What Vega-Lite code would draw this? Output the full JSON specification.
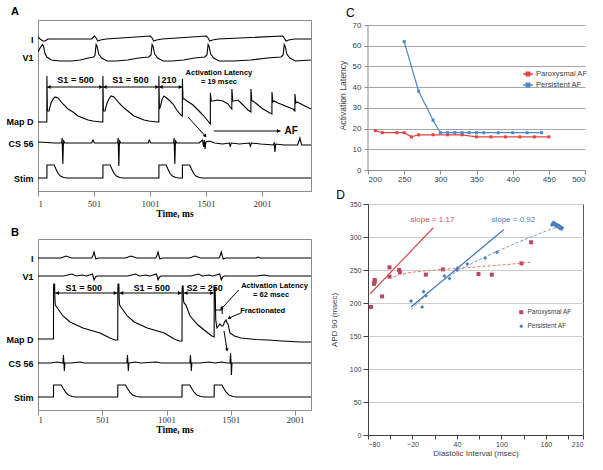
{
"$schema": "https://vega.github.io/schema/vega-lite/v6.json",
"background": "white",
"padding": {"left": 5, "top": 5, "right": 0, "bottom": 0},
"config": {
  "font": "Liberation Sans",
  "view": {"stroke": null},
  "title": {"font": "Liberation Sans", "color": "black", "anchor": "start"},
  "axis": {"labelFont": "Liberation Sans", "titleFont": "Liberation Sans", "titleFontWeight": "normal", "labelColor": "#404040", "titleColor": "#404040"}
},
"resolve": {"scale": {"color": "independent", "shape": "independent"}, "legend": {"color": "independent", "shape": "independent"}},
"datasets": {
  "traceA": [
    {"c":"I","t":1,"v":154},{"c":"I","t":20,"v":152},{"c":"I","t":46,"v":150},{"c":"I","t":64,"v":150},{"c":"I","t":90,"v":152},{"c":"I","t":480,"v":152},{"c":"I","t":505,"v":155},{"c":"I","t":520,"v":153},{"c":"I","t":535,"v":150},{"c":"I","t":560,"v":151},{"c":"I","t":610,"v":152},{"c":"I","t":1005,"v":155},{"c":"I","t":1020,"v":153},{"c":"I","t":1035,"v":150},{"c":"I","t":1060,"v":151},{"c":"I","t":1110,"v":152},{"c":"I","t":1505,"v":155},{"c":"I","t":1520,"v":153},{"c":"I","t":1535,"v":150},{"c":"I","t":1560,"v":151},{"c":"I","t":1610,"v":152},{"c":"I","t":2185,"v":155},{"c":"I","t":2200,"v":153},{"c":"I","t":2215,"v":150},{"c":"I","t":2240,"v":151},{"c":"I","t":2290,"v":152},{"c":"I","t":2439,"v":152},
    {"c":"V1","t":1,"v":139},{"c":"V1","t":20,"v":143},{"c":"V1","t":40,"v":146.5},{"c":"V1","t":50,"v":145},{"c":"V1","t":62,"v":138},{"c":"V1","t":80,"v":134},{"c":"V1","t":120,"v":131},{"c":"V1","t":200,"v":130},{"c":"V1","t":300,"v":130},{"c":"V1","t":380,"v":131},{"c":"V1","t":450,"v":133},{"c":"V1","t":500,"v":134},{"c":"V1","t":510,"v":136},{"c":"V1","t":520,"v":146.5},{"c":"V1","t":530,"v":144},{"c":"V1","t":543,"v":137},{"c":"V1","t":570,"v":133},{"c":"V1","t":620,"v":130},{"c":"V1","t":700,"v":130},{"c":"V1","t":800,"v":131},{"c":"V1","t":900,"v":133},{"c":"V1","t":990,"v":134},{"c":"V1","t":1010,"v":136},{"c":"V1","t":1020,"v":146.5},{"c":"V1","t":1030,"v":144},{"c":"V1","t":1043,"v":137},{"c":"V1","t":1070,"v":133},{"c":"V1","t":1120,"v":130},{"c":"V1","t":1200,"v":130},{"c":"V1","t":1300,"v":131},{"c":"V1","t":1400,"v":133},{"c":"V1","t":1490,"v":134},{"c":"V1","t":1510,"v":136},{"c":"V1","t":1520,"v":146.5},{"c":"V1","t":1530,"v":144},{"c":"V1","t":1543,"v":137},{"c":"V1","t":1570,"v":133},{"c":"V1","t":1620,"v":130},{"c":"V1","t":1750,"v":130},{"c":"V1","t":1900,"v":131},{"c":"V1","t":2050,"v":133},{"c":"V1","t":2170,"v":134},{"c":"V1","t":2190,"v":136},{"c":"V1","t":2200,"v":146.5},{"c":"V1","t":2210,"v":144},{"c":"V1","t":2223,"v":137},{"c":"V1","t":2250,"v":133},{"c":"V1","t":2300,"v":130},{"c":"V1","t":2439,"v":131},
    {"c":"MAP","t":1,"v":69},{"c":"MAP","t":80,"v":69},{"c":"MAP","t":80.5,"v":115},{"c":"MAP","t":85,"v":80},{"c":"MAP","t":99,"v":80},{"c":"MAP","t":117,"v":88},{"c":"MAP","t":135,"v":92},{"c":"MAP","t":153,"v":94},{"c":"MAP","t":180,"v":93},{"c":"MAP","t":224,"v":87},{"c":"MAP","t":269,"v":82},{"c":"MAP","t":314,"v":79},{"c":"MAP","t":358,"v":75},{"c":"MAP","t":403,"v":73},{"c":"MAP","t":448,"v":71},{"c":"MAP","t":492,"v":70},{"c":"MAP","t":564,"v":69},{"c":"MAP","t":580,"v":69},
    {"c":"MAP","t":580.5,"v":115},{"c":"MAP","t":585,"v":80},{"c":"MAP","t":599,"v":80},{"c":"MAP","t":617,"v":88},{"c":"MAP","t":635,"v":92},{"c":"MAP","t":653,"v":95},{"c":"MAP","t":680,"v":94},{"c":"MAP","t":724,"v":88},{"c":"MAP","t":769,"v":83},{"c":"MAP","t":814,"v":79},{"c":"MAP","t":858,"v":75},{"c":"MAP","t":903,"v":73},{"c":"MAP","t":948,"v":71},{"c":"MAP","t":992,"v":70},{"c":"MAP","t":1064,"v":69},{"c":"MAP","t":1080,"v":69},
    {"c":"MAP","t":1080.5,"v":115},{"c":"MAP","t":1085,"v":82},{"c":"MAP","t":1095,"v":85},{"c":"MAP","t":1110,"v":92},{"c":"MAP","t":1126,"v":95},{"c":"MAP","t":1150,"v":93},{"c":"MAP","t":1180,"v":90},{"c":"MAP","t":1207,"v":87},{"c":"MAP","t":1240,"v":81},{"c":"MAP","t":1269,"v":77},{"c":"MAP","t":1290,"v":75},
    {"c":"MAP","t":1290.5,"v":112},{"c":"MAP","t":1296,"v":92},{"c":"MAP","t":1310,"v":92},{"c":"MAP","t":1330,"v":90},{"c":"MAP","t":1360,"v":88},{"c":"MAP","t":1385,"v":86},{"c":"MAP","t":1430,"v":81},{"c":"MAP","t":1474,"v":76},{"c":"MAP","t":1519,"v":70},{"c":"MAP","t":1540,"v":67},
    {"c":"MAP","t":1540.5,"v":98},{"c":"MAP","t":1548,"v":90},{"c":"MAP","t":1564,"v":90},{"c":"MAP","t":1600,"v":91},{"c":"MAP","t":1653,"v":90},{"c":"MAP","t":1698,"v":87},{"c":"MAP","t":1716,"v":84},{"c":"MAP","t":1732,"v":82},{"c":"MAP","t":1732.5,"v":102},{"c":"MAP","t":1740,"v":90},{"c":"MAP","t":1751,"v":90},{"c":"MAP","t":1787,"v":91},{"c":"MAP","t":1832,"v":86},{"c":"MAP","t":1876,"v":81},{"c":"MAP","t":1902,"v":79},{"c":"MAP","t":1902.5,"v":102},{"c":"MAP","t":1910,"v":90},{"c":"MAP","t":1921,"v":90},{"c":"MAP","t":1966,"v":86},{"c":"MAP","t":2010,"v":82},{"c":"MAP","t":2073,"v":78},{"c":"MAP","t":2090,"v":77},{"c":"MAP","t":2090.5,"v":99},{"c":"MAP","t":2098,"v":89},{"c":"MAP","t":2110,"v":90},{"c":"MAP","t":2144,"v":88},{"c":"MAP","t":2190,"v":86},{"c":"MAP","t":2233,"v":84},{"c":"MAP","t":2278,"v":82},{"c":"MAP","t":2295,"v":80},{"c":"MAP","t":2295.5,"v":97},{"c":"MAP","t":2303,"v":88},{"c":"MAP","t":2315,"v":89},{"c":"MAP","t":2367,"v":86},{"c":"MAP","t":2439,"v":82},
    {"c":"CS","t":1,"v":49},{"c":"CS","t":150,"v":48},{"c":"CS","t":212,"v":48},{"c":"CS","t":217,"v":53},{"c":"CS","t":220,"v":38},{"c":"CS","t":223,"v":27},{"c":"CS","t":227,"v":45},{"c":"CS","t":231,"v":50},{"c":"CS","t":240,"v":48},{"c":"CS","t":480,"v":48},{"c":"CS","t":492,"v":51},{"c":"CS","t":505,"v":48},{"c":"CS","t":712,"v":48},{"c":"CS","t":717,"v":53},{"c":"CS","t":720,"v":38},{"c":"CS","t":723,"v":25},{"c":"CS","t":727,"v":45},{"c":"CS","t":731,"v":50},{"c":"CS","t":740,"v":48},{"c":"CS","t":985,"v":48},{"c":"CS","t":995,"v":51},{"c":"CS","t":1008,"v":48},{"c":"CS","t":1212,"v":48},{"c":"CS","t":1217,"v":53},{"c":"CS","t":1220,"v":38},{"c":"CS","t":1223,"v":27},{"c":"CS","t":1227,"v":45},{"c":"CS","t":1231,"v":50},{"c":"CS","t":1240,"v":48},{"c":"CS","t":1440,"v":48},{"c":"CS","t":1470,"v":51},{"c":"CS","t":1480,"v":44},{"c":"CS","t":1486,"v":51},{"c":"CS","t":1493,"v":42},{"c":"CS","t":1500,"v":49},{"c":"CS","t":1530,"v":50},{"c":"CS","t":1580,"v":48},{"c":"CS","t":1650,"v":47},{"c":"CS","t":1710,"v":48},{"c":"CS","t":1718,"v":44},{"c":"CS","t":1726,"v":48},{"c":"CS","t":1800,"v":47},{"c":"CS","t":1890,"v":48},{"c":"CS","t":1898,"v":44},{"c":"CS","t":1906,"v":48},{"c":"CS","t":1990,"v":47},{"c":"CS","t":2100,"v":46},{"c":"CS","t":2110,"v":48},{"c":"CS","t":2117,"v":39},{"c":"CS","t":2124,"v":47},{"c":"CS","t":2200,"v":46},{"c":"CS","t":2320,"v":46},{"c":"CS","t":2340,"v":53},{"c":"CS","t":2355,"v":46},{"c":"CS","t":2439,"v":46},
    {"c":"ST","t":1,"v":13},{"c":"ST","t":80.5,"v":13},{"c":"ST","t":81,"v":26},{"c":"ST","t":146,"v":26},{"c":"ST","t":161,"v":22},{"c":"ST","t":181,"v":17.5},{"c":"ST","t":201,"v":15},{"c":"ST","t":231,"v":13.5},{"c":"ST","t":261,"v":13},{"c":"ST","t":580.5,"v":13},{"c":"ST","t":581,"v":26},{"c":"ST","t":646,"v":26},{"c":"ST","t":661,"v":22},{"c":"ST","t":681,"v":17.5},{"c":"ST","t":701,"v":15},{"c":"ST","t":731,"v":13.5},{"c":"ST","t":761,"v":13},{"c":"ST","t":1080.5,"v":13},{"c":"ST","t":1081,"v":26},{"c":"ST","t":1146,"v":26},{"c":"ST","t":1161,"v":22},{"c":"ST","t":1181,"v":17.5},{"c":"ST","t":1201,"v":15},{"c":"ST","t":1231,"v":13.5},{"c":"ST","t":1261,"v":13},{"c":"ST","t":1290.5,"v":13},{"c":"ST","t":1291,"v":26},{"c":"ST","t":1356,"v":26},{"c":"ST","t":1371,"v":22},{"c":"ST","t":1391,"v":17.5},{"c":"ST","t":1411,"v":15},{"c":"ST","t":1441,"v":13.5},{"c":"ST","t":1471,"v":13},{"c":"ST","t":2439,"v":13}
  ],
  "traceB": [
    {"c":"I","t":1,"v":152},{"c":"I","t":180,"v":152},{"c":"I","t":219,"v":154},{"c":"I","t":260,"v":152},{"c":"I","t":420,"v":152},{"c":"I","t":430,"v":155},{"c":"I","t":437,"v":158},{"c":"I","t":445,"v":154},{"c":"I","t":452,"v":151},{"c":"I","t":470,"v":152},{"c":"I","t":680,"v":152},{"c":"I","t":725,"v":154},{"c":"I","t":770,"v":152},{"c":"I","t":918,"v":152},{"c":"I","t":928,"v":155},{"c":"I","t":935,"v":158},{"c":"I","t":943,"v":154},{"c":"I","t":950,"v":151},{"c":"I","t":968,"v":152},{"c":"I","t":1180,"v":152},{"c":"I","t":1222,"v":154},{"c":"I","t":1265,"v":152},{"c":"I","t":1410,"v":152},{"c":"I","t":1420,"v":155},{"c":"I","t":1427,"v":158},{"c":"I","t":1435,"v":154},{"c":"I","t":1442,"v":151},{"c":"I","t":1460,"v":152},{"c":"I","t":1700,"v":152},{"c":"I","t":1713,"v":153},{"c":"I","t":1730,"v":152},{"c":"I","t":2125,"v":152},
    {"c":"V1","t":1,"v":134},{"c":"V1","t":200,"v":134},{"c":"V1","t":266,"v":136},{"c":"V1","t":300,"v":134},{"c":"V1","t":345,"v":135},{"c":"V1","t":380,"v":134},{"c":"V1","t":425,"v":136},{"c":"V1","t":437,"v":130},{"c":"V1","t":448,"v":133},{"c":"V1","t":460,"v":134},{"c":"V1","t":700,"v":134},{"c":"V1","t":760,"v":136},{"c":"V1","t":790,"v":134},{"c":"V1","t":840,"v":135},{"c":"V1","t":870,"v":134},{"c":"V1","t":923,"v":136},{"c":"V1","t":935,"v":130},{"c":"V1","t":946,"v":133},{"c":"V1","t":958,"v":134},{"c":"V1","t":1190,"v":134},{"c":"V1","t":1250,"v":136},{"c":"V1","t":1280,"v":134},{"c":"V1","t":1330,"v":135},{"c":"V1","t":1360,"v":134},{"c":"V1","t":1415,"v":136},{"c":"V1","t":1427,"v":130},{"c":"V1","t":1438,"v":133},{"c":"V1","t":1450,"v":134},{"c":"V1","t":1700,"v":134},{"c":"V1","t":1760,"v":135},{"c":"V1","t":1800,"v":134},{"c":"V1","t":2125,"v":134},
    {"c":"MAP","t":1,"v":71},{"c":"MAP","t":121.5,"v":71},{"c":"MAP","t":122,"v":121},{"c":"MAP","t":124,"v":126},{"c":"MAP","t":130,"v":126},{"c":"MAP","t":133,"v":110},{"c":"MAP","t":136,"v":105},{"c":"MAP","t":157,"v":101},{"c":"MAP","t":196,"v":94},{"c":"MAP","t":250,"v":88},{"c":"MAP","t":351,"v":82},{"c":"MAP","t":483,"v":77},{"c":"MAP","t":561,"v":72},{"c":"MAP","t":600,"v":70},{"c":"MAP","t":621.5,"v":70},
    {"c":"MAP","t":622,"v":121},{"c":"MAP","t":624,"v":126},{"c":"MAP","t":630,"v":126},{"c":"MAP","t":633,"v":110},{"c":"MAP","t":636,"v":105},{"c":"MAP","t":657,"v":101},{"c":"MAP","t":696,"v":94},{"c":"MAP","t":750,"v":88},{"c":"MAP","t":851,"v":82},{"c":"MAP","t":983,"v":77},{"c":"MAP","t":1061,"v":71},{"c":"MAP","t":1100,"v":69},{"c":"MAP","t":1121.5,"v":69},
    {"c":"MAP","t":1122,"v":120},{"c":"MAP","t":1124,"v":124},{"c":"MAP","t":1130,"v":124},{"c":"MAP","t":1133,"v":110},{"c":"MAP","t":1137,"v":107},{"c":"MAP","t":1152,"v":105},{"c":"MAP","t":1184,"v":94},{"c":"MAP","t":1246,"v":85},{"c":"MAP","t":1323,"v":77},{"c":"MAP","t":1354,"v":74},{"c":"MAP","t":1371.5,"v":73},
    {"c":"MAP","t":1372,"v":120},{"c":"MAP","t":1374,"v":123},{"c":"MAP","t":1379,"v":123},{"c":"MAP","t":1384,"v":90},{"c":"MAP","t":1393,"v":82},{"c":"MAP","t":1405,"v":84},{"c":"MAP","t":1417,"v":86},{"c":"MAP","t":1430,"v":84},{"c":"MAP","t":1440,"v":84},{"c":"MAP","t":1452,"v":88},{"c":"MAP","t":1464,"v":90},{"c":"MAP","t":1472,"v":87},{"c":"MAP","t":1479,"v":86},{"c":"MAP","t":1495,"v":77},{"c":"MAP","t":1530,"v":74},{"c":"MAP","t":1580,"v":72},{"c":"MAP","t":1700,"v":70.5},{"c":"MAP","t":1790,"v":70},{"c":"MAP","t":1900,"v":69},{"c":"MAP","t":2047,"v":68},{"c":"MAP","t":2125,"v":68},
    {"c":"CS","t":1,"v":47},{"c":"CS","t":100,"v":47},{"c":"CS","t":150,"v":48},{"c":"CS","t":195,"v":47},{"c":"CS","t":199,"v":55},{"c":"CS","t":203,"v":47},{"c":"CS","t":206,"v":39},{"c":"CS","t":210,"v":47},{"c":"CS","t":260,"v":47},{"c":"CS","t":330,"v":48},{"c":"CS","t":360,"v":47},{"c":"CS","t":693,"v":47},{"c":"CS","t":697,"v":55},{"c":"CS","t":701,"v":47},{"c":"CS","t":704,"v":39},{"c":"CS","t":708,"v":47},{"c":"CS","t":760,"v":48},{"c":"CS","t":800,"v":47},{"c":"CS","t":920,"v":48},{"c":"CS","t":960,"v":47},{"c":"CS","t":1183,"v":47},{"c":"CS","t":1187,"v":55},{"c":"CS","t":1191,"v":47},{"c":"CS","t":1194,"v":39},{"c":"CS","t":1198,"v":47},{"c":"CS","t":1260,"v":47},{"c":"CS","t":1330,"v":48},{"c":"CS","t":1380,"v":47},{"c":"CS","t":1430,"v":48},{"c":"CS","t":1470,"v":47},{"c":"CS","t":1495,"v":47},{"c":"CS","t":1499,"v":57},{"c":"CS","t":1503,"v":47},{"c":"CS","t":1506,"v":35},{"c":"CS","t":1510,"v":47},{"c":"CS","t":1560,"v":47},{"c":"CS","t":2125,"v":47},
    {"c":"ST","t":1,"v":13},{"c":"ST","t":121.5,"v":13},{"c":"ST","t":122,"v":25},{"c":"ST","t":182,"v":25},{"c":"ST","t":197,"v":21.5},{"c":"ST","t":217,"v":17.5},{"c":"ST","t":237,"v":15},{"c":"ST","t":267,"v":13.5},{"c":"ST","t":297,"v":13},{"c":"ST","t":621.5,"v":13},{"c":"ST","t":622,"v":25},{"c":"ST","t":682,"v":25},{"c":"ST","t":697,"v":21.5},{"c":"ST","t":717,"v":17.5},{"c":"ST","t":737,"v":15},{"c":"ST","t":767,"v":13.5},{"c":"ST","t":797,"v":13},{"c":"ST","t":1121.5,"v":13},{"c":"ST","t":1122,"v":25},{"c":"ST","t":1182,"v":25},{"c":"ST","t":1197,"v":21.5},{"c":"ST","t":1217,"v":17.5},{"c":"ST","t":1237,"v":15},{"c":"ST","t":1267,"v":13.5},{"c":"ST","t":1297,"v":13},{"c":"ST","t":1371.5,"v":13},{"c":"ST","t":1372,"v":25},{"c":"ST","t":1432,"v":25},{"c":"ST","t":1447,"v":21.5},{"c":"ST","t":1467,"v":17.5},{"c":"ST","t":1487,"v":15},{"c":"ST","t":1517,"v":13.5},{"c":"ST","t":1547,"v":13},{"c":"ST","t":2125,"v":13}
  ],
  "latency": [
    {"x":210,"y":19,"s":"Paroxysmal AF"},{"x":220,"y":18,"s":"Paroxysmal AF"},{"x":240,"y":18,"s":"Paroxysmal AF"},{"x":250,"y":18,"s":"Paroxysmal AF"},{"x":260,"y":16,"s":"Paroxysmal AF"},{"x":270,"y":17,"s":"Paroxysmal AF"},{"x":290,"y":17,"s":"Paroxysmal AF"},{"x":310,"y":17,"s":"Paroxysmal AF"},{"x":330,"y":17,"s":"Paroxysmal AF"},{"x":350,"y":16,"s":"Paroxysmal AF"},{"x":370,"y":16,"s":"Paroxysmal AF"},{"x":390,"y":16,"s":"Paroxysmal AF"},{"x":410,"y":16,"s":"Paroxysmal AF"},{"x":430,"y":16,"s":"Paroxysmal AF"},{"x":450,"y":16,"s":"Paroxysmal AF"},
    {"x":250,"y":62,"s":"Persistent AF"},{"x":270,"y":38,"s":"Persistent AF"},{"x":290,"y":24,"s":"Persistent AF"},{"x":300,"y":18,"s":"Persistent AF"},{"x":310,"y":18,"s":"Persistent AF"},{"x":320,"y":18,"s":"Persistent AF"},{"x":330,"y":18,"s":"Persistent AF"},{"x":340,"y":18,"s":"Persistent AF"},{"x":350,"y":18,"s":"Persistent AF"},{"x":360,"y":18,"s":"Persistent AF"},{"x":380,"y":18,"s":"Persistent AF"},{"x":400,"y":18,"s":"Persistent AF"},{"x":420,"y":18,"s":"Persistent AF"},{"x":440,"y":18,"s":"Persistent AF"}
  ],
  "apd": [
    {"x":-76,"y":194,"s":"Paroxysmal AF"},{"x":-71,"y":235,"s":"Paroxysmal AF"},{"x":-71,"y":232,"s":"Paroxysmal AF"},{"x":-72,"y":229,"s":"Paroxysmal AF"},{"x":-61,"y":210,"s":"Paroxysmal AF"},{"x":-51,"y":254,"s":"Paroxysmal AF"},{"x":-51,"y":240,"s":"Paroxysmal AF"},{"x":-38,"y":250,"s":"Paroxysmal AF"},{"x":-37,"y":247,"s":"Paroxysmal AF"},{"x":-2,"y":243,"s":"Paroxysmal AF"},{"x":21,"y":251,"s":"Paroxysmal AF"},{"x":69,"y":244,"s":"Paroxysmal AF"},{"x":87,"y":243,"s":"Paroxysmal AF"},{"x":127,"y":260,"s":"Paroxysmal AF"},{"x":140,"y":292,"s":"Paroxysmal AF"},
    {"x":-22,"y":203,"s":"Persistent AF"},{"x":-5,"y":217,"s":"Persistent AF"},{"x":-7,"y":194,"s":"Persistent AF"},{"x":-2,"y":211,"s":"Persistent AF"},{"x":23,"y":241,"s":"Persistent AF"},{"x":30,"y":237,"s":"Persistent AF"},{"x":40,"y":250,"s":"Persistent AF"},{"x":41,"y":253,"s":"Persistent AF"},{"x":54,"y":259,"s":"Persistent AF"},{"x":78,"y":268,"s":"Persistent AF"},{"x":94,"y":277,"s":"Persistent AF"},
    {"x":168,"y":318,"s":"Persistent AF"},{"x":169,"y":320,"s":"Persistent AF"},{"x":170,"y":322,"s":"Persistent AF"},{"x":171,"y":319,"s":"Persistent AF"},{"x":172,"y":321,"s":"Persistent AF"},{"x":173,"y":317,"s":"Persistent AF"},{"x":174,"y":319,"s":"Persistent AF"},{"x":175,"y":316,"s":"Persistent AF"},{"x":176,"y":318,"s":"Persistent AF"},{"x":177,"y":315,"s":"Persistent AF"},{"x":178,"y":317,"s":"Persistent AF"},{"x":179,"y":313,"s":"Persistent AF"},{"x":180,"y":315,"s":"Persistent AF"},{"x":181,"y":312,"s":"Persistent AF"},{"x":182,"y":314,"s":"Persistent AF"}
  ]
},
"spacing": 17,
"hconcat": [
  {
    "spacing": 8,
    "vconcat": [
      {
        "width": 273, "height": 171,
        "title": {"text": "A", "dx": 5, "offset": 3, "fontSize": 11, "fontWeight": "bold"},
        "view": {"stroke": "#8c8c8c"},
        "encoding": {
          "x": {"field": "t", "type": "quantitative", "scale": {"domain": [1, 2439], "nice": false, "zero": false},
            "axis": {"values": [1, 501, 1001, 1501, 2001], "format": "d", "title": "Time, ms", "grid": false, "labelFont": "Liberation Serif", "labelFontSize": 9, "labelColor": "#333333", "titleFont": "Liberation Serif", "titleFontWeight": "bold", "titleFontSize": 9.5, "titleColor": "black", "tickSize": 5, "tickColor": "#8c8c8c", "domainColor": "#8c8c8c", "labelPadding": 3, "titlePadding": 0}},
          "y": {"field": "v", "type": "quantitative", "scale": {"domain": [0, 171], "nice": false, "zero": false},
            "axis": {"values": [13, 48, 70, 134, 152], "labelExpr": "datum.value==152?'I':datum.value==134?'V1':datum.value==70?'Map D':datum.value==48?'CS 56':'Stim'", "title": null, "grid": false, "domain": false, "ticks": false, "labelFontWeight": "bold", "labelFontSize": 9, "labelColor": "black", "labelPadding": 5}}
        },
        "layer": [
          {"data": {"name": "traceA"}, "mark": {"type": "line", "color": "black", "strokeWidth": 1.1, "clip": true}, "encoding": {"detail": {"field": "c", "type": "nominal"}}},
          {"data": {"values": [{"t":81,"v":104,"t2":581,"v2":104},{"t":581,"v":104,"t2":1081,"v2":104},{"t":1081,"v":104,"t2":1291,"v2":104},{"t":1572,"v":60,"t2":2168,"v2":60},{"t":1340,"v":74,"t2":1495,"v2":55}]},
           "mark": {"type": "rule", "color": "black", "strokeWidth": 1}, "encoding": {"x2": {"field": "t2"}, "y2": {"field": "v2"}}},
          {"data": {"values": [{"t":81,"v":104},{"t":581,"v":104},{"t":1081,"v":104}]}, "mark": {"type": "point", "shape": "triangle-left", "filled": true, "color": "black", "opacity": 1, "size": 16, "xOffset": 2}},
          {"data": {"values": [{"t":581,"v":104},{"t":1081,"v":104},{"t":1291,"v":104},{"t":2168,"v":60}]}, "mark": {"type": "point", "shape": "triangle-right", "filled": true, "color": "black", "opacity": 1, "size": 16, "xOffset": -2}},
          {"data": {"values": [{"t":1495,"v":55}]}, "mark": {"type": "point", "shape": "triangle-up", "angle": 140, "filled": true, "color": "black", "opacity": 1, "size": 16}},
          {"data": {"values": [{"t":336,"v":111,"s":"S1 = 500"},{"t":827,"v":111,"s":"S1 = 500"},{"t":1170,"v":111,"s":"210"}]}, "mark": {"type": "text", "fontWeight": "bold", "fontSize": 9, "color": "black"}, "encoding": {"text": {"field": "s"}}},
          {"data": {"values": [{"t":1617,"v":118,"s":"Activation Latency"},{"t":1617,"v":109,"s":"= 19 msec"}]}, "mark": {"type": "text", "fontWeight": "bold", "fontSize": 7.5, "color": "black"}, "encoding": {"text": {"field": "s"}}},
          {"data": {"values": [{"t":2262,"v":60,"s":"AF"}]}, "mark": {"type": "text", "fontWeight": "bold", "fontSize": 10, "color": "black"}, "encoding": {"text": {"field": "s"}}}
        ]
      },
      {
        "width": 273, "height": 171,
        "title": {"text": "B", "dx": 5, "offset": 1, "fontSize": 11, "fontWeight": "bold"},
        "view": {"stroke": "#8c8c8c"},
        "encoding": {
          "x": {"field": "t", "type": "quantitative", "scale": {"domain": [1, 2125], "nice": false, "zero": false},
            "axis": {"values": [1, 501, 1001, 1501, 2001], "format": "d", "title": "Time, ms", "grid": false, "labelFont": "Liberation Serif", "labelFontSize": 9, "labelColor": "#333333", "titleFont": "Liberation Serif", "titleFontWeight": "bold", "titleFontSize": 9.5, "titleColor": "black", "tickSize": 5, "tickColor": "#8c8c8c", "domainColor": "#8c8c8c", "labelPadding": 0, "titlePadding": 0}},
          "y": {"field": "v", "type": "quantitative", "scale": {"domain": [0, 171], "nice": false, "zero": false},
            "axis": {"values": [13, 47, 71, 134, 152], "labelExpr": "datum.value==152?'I':datum.value==134?'V1':datum.value==71?'Map D':datum.value==47?'CS 56':'Stim'", "title": null, "grid": false, "domain": false, "ticks": false, "labelFontWeight": "bold", "labelFontSize": 9, "labelColor": "black", "labelPadding": 5}}
        },
        "layer": [
          {"data": {"name": "traceB"}, "mark": {"type": "line", "color": "black", "strokeWidth": 1.1, "clip": true}, "encoding": {"detail": {"field": "c", "type": "nominal"}}},
          {"data": {"values": [{"t":135,"v":117,"t2":619,"v2":117},{"t":635,"v":117,"t2":1119,"v2":117},{"t":1135,"v":117,"t2":1369,"v2":117},{"t":1562,"v":120,"t2":1427,"v2":101},{"t":1580,"v":97,"t2":1487,"v2":92},{"t":1448,"v":79,"t2":1472,"v2":60},{"t":1378,"v":100,"t2":1434,"v2":100},{"t":1434,"v":96,"t2":1434,"v2":104}]},
           "mark": {"type": "rule", "color": "black", "strokeWidth": 1}, "encoding": {"x2": {"field": "t2"}, "y2": {"field": "v2"}}},
          {"data": {"values": [{"t":135,"v":117},{"t":635,"v":117},{"t":1135,"v":117}]}, "mark": {"type": "point", "shape": "triangle-left", "filled": true, "color": "black", "opacity": 1, "size": 16, "xOffset": 2}},
          {"data": {"values": [{"t":619,"v":117},{"t":1119,"v":117},{"t":1369,"v":117}]}, "mark": {"type": "point", "shape": "triangle-right", "filled": true, "color": "black", "opacity": 1, "size": 16, "xOffset": -2}},
          {"data": {"values": [{"t":1427,"v":101}]}, "mark": {"type": "point", "shape": "triangle-up", "angle": 222, "filled": true, "color": "black", "opacity": 1, "size": 14}},
          {"data": {"values": [{"t":1487,"v":92}]}, "mark": {"type": "point", "shape": "triangle-up", "angle": 247, "filled": true, "color": "black", "opacity": 1, "size": 14}},
          {"data": {"values": [{"t":1472,"v":60}]}, "mark": {"type": "point", "shape": "triangle-up", "angle": 171, "filled": true, "color": "black", "opacity": 1, "size": 14}},
          {"data": {"values": [{"t":357,"v":122,"s":"S1 = 500"},{"t":886,"v":122,"s":"S1 = 500"},{"t":1298,"v":122,"s":"S2 = 250"}]}, "mark": {"type": "text", "fontWeight": "bold", "fontSize": 9, "color": "black"}, "encoding": {"text": {"field": "s"}}},
          {"data": {"values": [{"t":1841,"v":124,"s":"Activation Latency"},{"t":1814,"v":115,"s":"= 62 msec"},{"t":1749,"v":99,"s":"Fractionated"}]}, "mark": {"type": "text", "fontWeight": "bold", "fontSize": 7.5, "color": "black"}, "encoding": {"text": {"field": "s"}}}
        ]
      }
    ]
  },
  {
    "spacing": 5,
    "resolve": {"scale": {"color": "independent", "shape": "independent"}, "legend": {"color": "independent", "shape": "independent"}},
    "vconcat": [
      {
        "width": 217, "height": 150,
        "title": {"text": "C", "dx": 8, "offset": 0, "fontSize": 12, "fontWeight": "normal"},
        "encoding": {
          "x": {"field": "x", "type": "quantitative", "scale": {"domain": [200, 500], "nice": false, "zero": false},
            "axis": {"values": [200, 250, 300, 350, 400, 450, 500], "title": null, "grid": false, "labelFontSize": 8, "tickSize": 4, "labelPadding": 1, "domainColor": "#8c8c8c", "tickColor": "#8c8c8c"}},
          "y": {"field": "y", "type": "quantitative", "scale": {"domain": [0, 72.414], "nice": false},
            "axis": {"values": [0, 10, 20, 30, 40, 50, 60, 70], "title": "Activation Latency", "titleFontSize": 8.6, "titlePadding": 5, "grid": true, "gridColor": "#a6a6a6", "domain": false, "labelFontSize": 8, "tickSize": 4, "labelPadding": 3, "tickColor": "#8c8c8c"}}
        },
        "layer": [
          {"data": {"values": [{"x":200,"y":0,"y2":70}]}, "mark": {"type": "rule", "color": "#8c8c8c", "strokeWidth": 1}, "encoding": {"y2": {"field": "y2"}}},
          {"data": {"name": "latency"}, "mark": {"type": "line", "strokeWidth": 1.2},
           "encoding": {"color": {"field": "s", "type": "nominal", "scale": {"domain": ["Paroxysmal AF", "Persistent AF"], "range": ["#e2433f", "#4f86c8"]},
            "legend": {"orient": "none", "legendX": 154, "legendY": 48, "title": null, "labelFontSize": 7.6, "labelColor": "#404040", "symbolType": "M-1,0L1,0M-0.35,-0.35L0.35,-0.35L0.35,0.35L-0.35,0.35Z", "symbolSize": 100, "symbolStrokeWidth": 1.3, "rowPadding": -2, "labelOffset": 2}}}},
          {"data": {"name": "latency"}, "mark": {"type": "point", "shape": "square", "filled": true, "opacity": 1, "size": 9},
           "encoding": {"color": {"field": "s", "type": "nominal", "scale": {"domain": ["Paroxysmal AF", "Persistent AF"], "range": ["#e2433f", "#4f86c8"]},
            "legend": {"orient": "none", "legendX": 154, "legendY": 48, "title": null, "labelFontSize": 7.6, "labelColor": "#404040", "symbolType": "M-1,0L1,0M-0.35,-0.35L0.35,-0.35L0.35,0.35L-0.35,0.35Z", "symbolSize": 100, "symbolStrokeWidth": 1.3, "rowPadding": -2, "labelOffset": 2}}}}
        ]
      },
      {
        "width": 215, "height": 231,
        "title": {"text": "D", "dx": 6, "offset": -2, "fontSize": 12, "fontWeight": "normal"},
        "view": {"stroke": "#595959"},
        "encoding": {
          "x": {"field": "x", "type": "quantitative", "scale": {"domain": [-80, 210], "nice": false, "zero": false},
            "axis": {"values": [-80, -50, -20, 10, 40, 70, 100, 130, 160, 190, 210], "title": "Diastolic Interval (msec)", "titleFontSize": 8, "titlePadding": 2, "grid": false, "labelFontSize": 7, "tickSize": 4, "labelPadding": 1, "domainColor": "#404040", "tickColor": "#404040"}},
          "y": {"field": "y", "type": "quantitative", "scale": {"domain": [0, 350], "nice": false},
            "axis": {"values": [0, 50, 100, 150, 200, 250, 300, 350], "title": "APD 90 (msec)", "titleFontSize": 8, "titlePadding": 11, "grid": true, "gridColor": "#cccccc", "labelFontSize": 7, "tickSize": 5, "labelPadding": 2, "domainColor": "#404040", "tickColor": "#404040"}}
        },
        "layer": [
          {"data": {"name": "apd"}, "mark": {"type": "point", "filled": true, "opacity": 1, "size": 16},
           "encoding": {
             "color": {"field": "s", "type": "nominal", "scale": {"domain": ["Paroxysmal AF", "Persistent AF"], "range": ["#b8475f", "#4a7cbc"]},
               "legend": {"orient": "none", "legendX": 150, "legendY": 105, "title": null, "labelFontSize": 6.5, "labelColor": "#404040", "rowPadding": 7, "symbolSize": 16, "labelOffset": 3}},
             "shape": {"field": "s", "type": "nominal", "scale": {"domain": ["Paroxysmal AF", "Persistent AF"], "range": ["square", "diamond"]},
               "legend": {"orient": "none", "legendX": 150, "legendY": 105, "title": null, "labelFontSize": 6.5, "labelColor": "#404040", "rowPadding": 7, "symbolSize": 16, "labelOffset": 3}}
           }},
          {"data": {"values": [{"x":-77,"y":214},{"x":8,"y":314}]}, "mark": {"type": "line", "color": "#d24f4b", "strokeWidth": 1.2}},
          {"data": {"values": [{"x":-22,"y":194},{"x":103,"y":311}]}, "mark": {"type": "line", "color": "#3f72b6", "strokeWidth": 1.2}},
          {"data": {"values": [{"x":-52,"y":237},{"x":-40,"y":242},{"x":-25,"y":246},{"x":-5,"y":248.5},{"x":20,"y":251},{"x":48,"y":253},{"x":80,"y":256},{"x":110,"y":258.5},{"x":140,"y":262}]}, "mark": {"type": "line", "color": "#e07a78", "strokeWidth": 1, "strokeDash": [3, 2]}},
          {"data": {"values": [{"x":-22,"y":190},{"x":-10,"y":203},{"x":0,"y":214},{"x":15,"y":229},{"x":30,"y":241},{"x":45,"y":251},{"x":60,"y":260},{"x":80,"y":271},{"x":100,"y":281},{"x":120,"y":291},{"x":140,"y":300},{"x":160,"y":309},{"x":178,"y":316}]}, "mark": {"type": "line", "color": "#6d9bd1", "strokeWidth": 1, "strokeDash": [3, 2]}},
          {"data": {"values": [{"x":7,"y":326,"s":"slope = 1.17"}]}, "mark": {"type": "text", "fontSize": 8, "color": "#d24f4b"}, "encoding": {"text": {"field": "s"}}},
          {"data": {"values": [{"x":116,"y":326,"s":"slope = 0.92"}]}, "mark": {"type": "text", "fontSize": 8, "color": "#4a7cbc"}, "encoding": {"text": {"field": "s"}}}
        ]
      }
    ]
  }
]
}
